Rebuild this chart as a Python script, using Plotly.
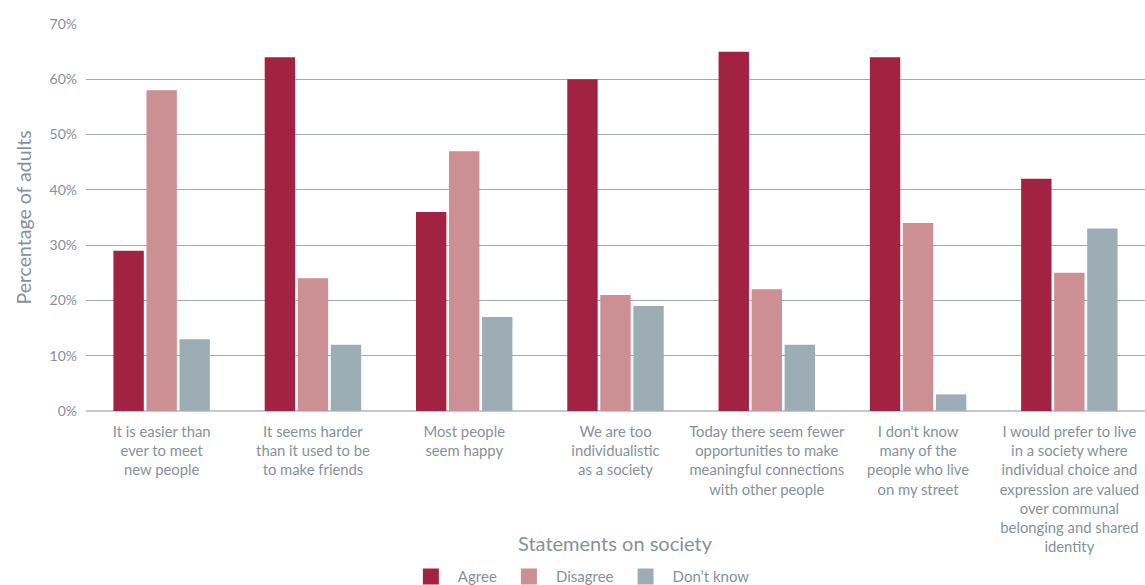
import plotly.graph_objects as go

statements = [
    "It is easier than<br>ever to meet<br>new people",
    "It seems harder<br>than it used to be<br>to make friends",
    "Most people<br>seem happy",
    "We are too<br>individualistic<br>as a society",
    "Today there seem fewer<br>opportunities to make<br>meaningful connections<br>with other people",
    "I don't know<br>many of the<br>people who live<br>on my street",
    "I would prefer to live<br>in a society where<br>individual choice and<br>expression are valued<br>over communal<br>belonging and shared<br>identity",
]
agree = [29, 64, 36, 60, 65, 64, 42]
disagree = [58, 24, 47, 21, 22, 34, 25]
dont_know = [13, 12, 17, 19, 12, 3, 33]

TEXT = "#84929b"
FONT = "Lato, 'Open Sans', sans-serif"

series = [
    ("Agree", agree, "#a22241"),
    ("Disagree", disagree, "#cc8f94"),
    ("Don\u2019t know", dont_know, "#9dadb6"),
]

fig = go.Figure()
for name, vals, col in series:
    fig.add_trace(go.Bar(x=statements, y=vals, name=name, marker_color=col,
                         marker_line_width=0, showlegend=False))
# legend keys as larger square swatches
for name, vals, col in series:
    fig.add_trace(go.Scatter(x=[None], y=[None], mode="markers", name=name,
                             marker=dict(symbol="square", size=16, color=col),
                             showlegend=True, hoverinfo="skip"))

fig.update_layout(
    width=1145, height=585,
    margin=dict(l=86, r=0, t=24, b=174, autoexpand=False),
    paper_bgcolor="white", plot_bgcolor="white",
    font=dict(family=FONT, color=TEXT, size=14),
    barmode="group", bargap=0.345, bargroupgap=0.08,
    legend=dict(orientation="h", xref="container", x=0.506, xanchor="center",
                y=-0.428, yanchor="middle",
                font=dict(size=15, color=TEXT), itemsizing="trace", itemwidth=44,
                traceorder="normal"),
    showlegend=True,
)
fig.update_xaxes(showgrid=False, ticks="", showline=False, automargin=False,
                 tickfont=dict(size=14.8, color=TEXT), ticklabelstandoff=10)
fig.update_yaxes(range=[0, 70], dtick=10, ticksuffix="%", showgrid=True,
                 automargin=False,
                 gridcolor="#a3abb0", gridwidth=1, zeroline=True,
                 zerolinecolor="#c3c9cc", zerolinewidth=2,
                 tickfont=dict(size=14, color=TEXT), ticklabelstandoff=8,
                 title=dict(text="Percentage of adults", font=dict(size=19.5, color=TEXT),
                            standoff=12))
fig.add_annotation(text="Statements on society", xref="paper", yref="paper",
                   x=0.5, y=-0.341, xanchor="center", yanchor="middle",
                   showarrow=False, font=dict(size=20, color=TEXT))

fig.write_html("out.html")
